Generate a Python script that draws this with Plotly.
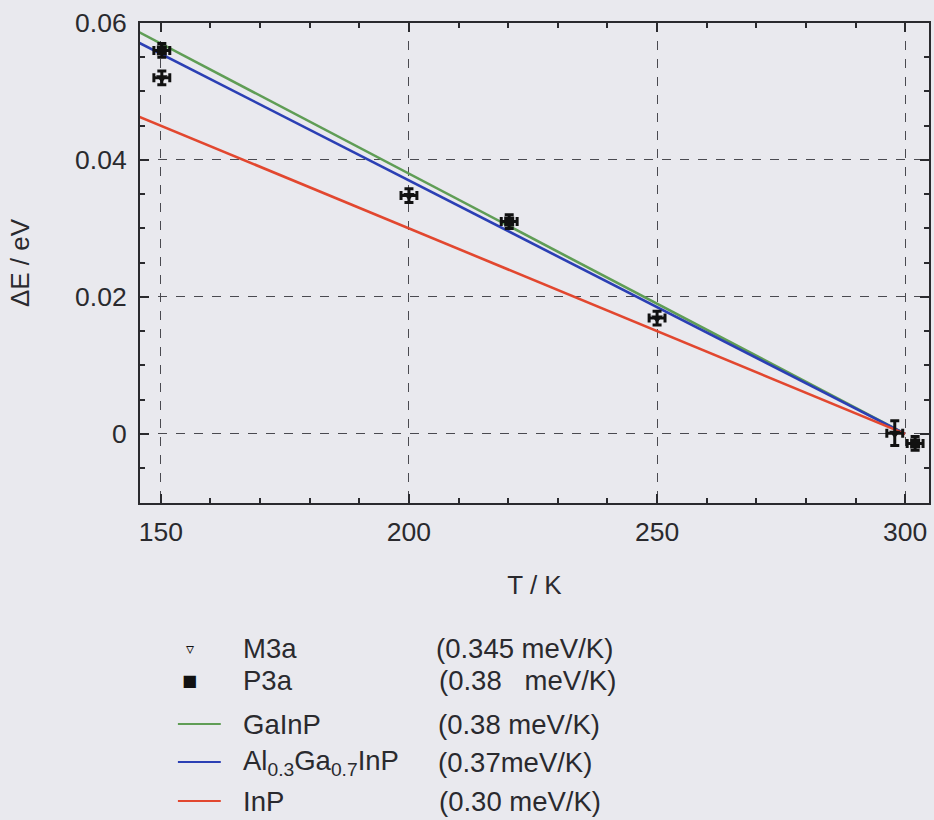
import plotly.graph_objects as go

# Measured energy shifts with error bars
m3a_T = [150.2, 200.0, 250.0, 297.9]
m3a_dE = [0.0520, 0.0348, 0.0169, 0.0001]
m3a_dT = [1.6, 1.6, 1.6, 1.6]
m3a_ddE = [0.0010, 0.0010, 0.0010, 0.0018]

p3a_T = [150.2, 220.2, 302.0]
p3a_dE = [0.0560, 0.0310, -0.0014]
p3a_dT = [1.6, 1.6, 1.6]
p3a_ddE = [0.0010, 0.0010, 0.0010]

# Band-gap shift curves for the bulk materials
line_T = [140.0, 300.0]
gainp_dE = [0.0608, 0.0]
algainp_dE = [0.0592, 0.0]
inp_dE = [0.0480, 0.0]

x_ticks = [150, 200, 250, 300]
y_ticks = [0, 0.02, 0.04, 0.06]
y_tick_text = ["0", "0.02", "0.04", "0.06"]

GREEN = "#5f9d55"
BLUE = "#2b3fb4"
RED = "#e2472f"
INK = "#2a2a2e"
BG = "#e9e9ee"
FONT = "Liberation Sans, Arial, sans-serif"

W, H = 934, 820
L, R, T, B = 140, 3, 23, 317
PW, PH = W - L - R, H - T - B


def px(x):
    return (x - L) / PW


def py(y):
    return (H - B - y) / PH


fig = go.Figure()

for name, ys, col in [("GaInP", gainp_dE, GREEN), ("AlGaInP", algainp_dE, BLUE), ("InP", inp_dE, RED)]:
    fig.add_trace(go.Scatter(x=line_T, y=ys, mode="lines", name=name,
                             line=dict(color=col, width=2.6), showlegend=False))

err_style = dict(type="data", color="#111", thickness=3, width=4.5)
fig.add_trace(go.Scatter(
    x=m3a_T, y=m3a_dE, mode="markers", name="M3a", showlegend=False,
    marker=dict(symbol="triangle-down", size=10, color="#111"),
    error_x=dict(array=m3a_dT, **err_style),
    error_y=dict(array=m3a_ddE, **err_style)))
fig.add_trace(go.Scatter(
    x=p3a_T, y=p3a_dE, mode="markers", name="P3a", showlegend=False,
    marker=dict(symbol="square", size=10, color="#111"),
    error_x=dict(array=p3a_dT, **err_style),
    error_y=dict(array=p3a_ddE, **err_style)))

axis_common = dict(
    showline=True, linecolor=INK, linewidth=2, mirror="ticks",
    ticks="inside", ticklen=9, tickwidth=1.5, tickcolor=INK,
    showgrid=True, gridcolor="#4a4a50", griddash="dash", gridwidth=1.3,
    zeroline=False, tickfont=dict(family=FONT, size=26.5, color=INK),
)

fig.update_xaxes(range=[145.8, 304.8], tickvals=x_ticks, ticklabelstandoff=4,
                 minor=dict(dtick=10, ticks="inside", ticklen=5, tickcolor=INK, showgrid=False),
                 title=dict(text="T / K", font=dict(family=FONT, size=26, color=INK), standoff=30),
                 **axis_common)
fig.update_yaxes(range=[-0.0101, 0.06], tickvals=y_ticks, ticktext=y_tick_text, ticklabelstandoff=6,
                 minor=dict(dtick=0.005, ticks="inside", ticklen=5, tickcolor=INK, showgrid=False),
                 title=dict(text="ΔE / eV", font=dict(family=FONT, size=26, color=INK), standoff=38),
                 **axis_common)

# Key below the plot
legend_rows = [
    ("▿", None, "M3a", "(0.345 meV/K)", 648, 435),
    ("■", None, "P3a", "(0.38   meV/K)", 680, 438),
    (None, GREEN, "GaInP", "(0.38 meV/K)", 724, 437),
    (None, BLUE, "Al<sub>0.3</sub>Ga<sub>0.7</sub>InP", "(0.37meV/K)", 762, 437),
    (None, RED, "InP", "(0.30 meV/K)", 801, 438),
]
shapes = []
annotations = []
for sym, col, label, rate, ypix, xrate in legend_rows:
    if sym:
        annotations.append(dict(x=px(190), y=py(ypix), xref="paper", yref="paper", text=sym,
                                showarrow=False, xanchor="center", yanchor="middle",
                                font=dict(family="DejaVu Sans", size=16, color="#111")))
    else:
        shapes.append(dict(type="line", xref="paper", yref="paper", x0=px(178), x1=px(221),
                           y0=py(ypix), y1=py(ypix), line=dict(color=col, width=2.2)))
    annotations.append(dict(x=px(241), y=py(ypix), xref="paper", yref="paper", text=label,
                            showarrow=False, xanchor="left", yanchor="middle",
                            font=dict(family=FONT, size=27.5, color=INK)))
    annotations.append(dict(x=px(xrate), y=py(ypix), xref="paper", yref="paper", text=rate,
                            showarrow=False, xanchor="left", yanchor="middle",
                            font=dict(family=FONT, size=27.5, color=INK)))

fig.update_layout(
    width=W, height=H,
    margin=dict(l=L, r=R, t=T, b=B),
    paper_bgcolor=BG, plot_bgcolor=BG,
    shapes=shapes, annotations=annotations,
    showlegend=False,
)

fig.write_html("out.html")
